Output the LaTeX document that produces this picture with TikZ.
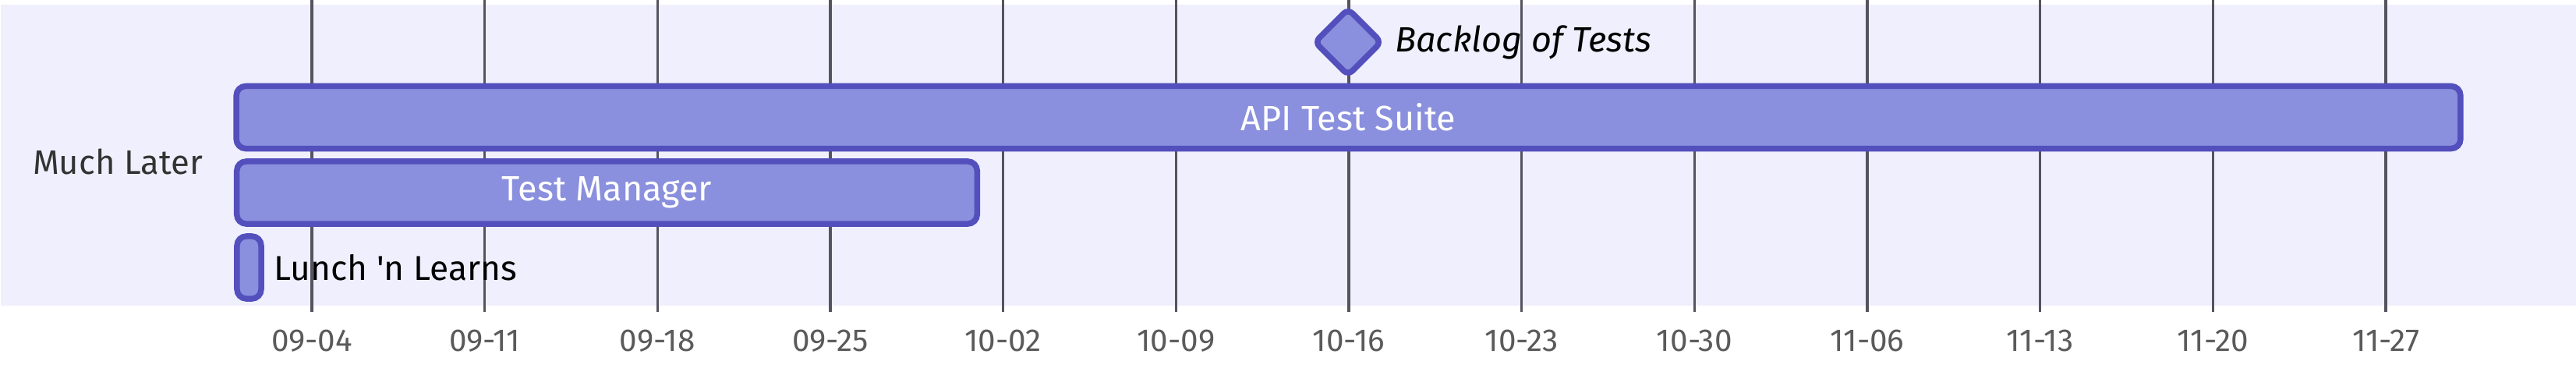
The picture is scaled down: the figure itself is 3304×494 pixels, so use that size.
\documentclass[tikz,border=0pt]{standalone}
\usepackage{fontspec}
\defaultfontfeatures[\rmfamily]{}
\setmainfont{Fira Sans}
\usepackage{xcolor}
\usetikzlibrary{shapes,shapes.geometric,positioning}
\definecolor{taskfill}{HTML}{8A90DD}
\definecolor{taskline}{HTML}{534FBC}
\definecolor{sectionbg}{HTML}{EFEFFD}
\definecolor{gridcol}{HTML}{54535E}
\definecolor{ticktext}{HTML}{5A5A5A}
\definecolor{sectext}{HTML}{333333}
\tikzstyle{task}=[rectangle, draw=taskline, fill=taskfill,% a bar of the chart
line width=0.075cm, rounded corners=0.12cm, inner sep=0pt, minimum height=0.8cm,
text=white, font=\fontsize{12.8}{15}\selectfont]
\tikzstyle{mstone}=[diamond, draw=taskline, fill=taskfill, line width=0.075cm,
rounded corners=0.08cm, inner sep=0pt, minimum width=0.88cm, minimum height=0.88cm]
\tikzstyle{outtext}=[text=black, font=\fontsize{12.6}{15}\selectfont]
\tikzstyle{tick}=[text=ticktext, font=\fontsize{11.5}{13}\selectfont]
\tikzstyle{grid}=[draw=gridcol, line width=0.032cm]

\begin{document}
\begin{tikzpicture}[x=0.01cm, y=-0.01cm]
\useasboundingbox (0,0) rectangle (3304,494);
\fill[sectionbg] (1,6) rectangle (3304,392);
\node[text=sectext, font=\fontsize{12.4}{14}\selectfont] (sec) at (151,207) {Much Later};
\draw[grid] (400,0) -- (400,400);
\draw[grid] (621.7,0) -- (621.7,400);
\draw[grid] (843.3,0) -- (843.3,400);
\draw[grid] (1065,0) -- (1065,400);
\draw[grid] (1286.7,0) -- (1286.7,400);
\draw[grid] (1508.3,0) -- (1508.3,400);
\draw[grid] (1730,0) -- (1730,400);
\draw[grid] (1951.7,0) -- (1951.7,400);
\draw[grid] (2173.3,0) -- (2173.3,400);
\draw[grid] (2395,0) -- (2395,400);
\draw[grid] (2616.7,0) -- (2616.7,400);
\draw[grid] (2838.3,0) -- (2838.3,400);
\draw[grid] (3060,0) -- (3060,400);
\node[tick] (t0904) at (400,437) {09-04};
\node[tick] (t0911) at (621.7,437) {09-11};
\node[tick] (t0918) at (843.3,437) {09-18};
\node[tick] (t0925) at (1065,437) {09-25};
\node[tick] (t1002) at (1286.7,437) {10-02};
\node[tick] (t1009) at (1508.3,437) {10-09};
\node[tick] (t1016) at (1730,437) {10-16};
\node[tick] (t1023) at (1951.7,437) {10-23};
\node[tick] (t1030) at (2173.3,437) {10-30};
\node[tick] (t1106) at (2395,437) {11-06};
\node[tick] (t1113) at (2616.7,437) {11-13};
\node[tick] (t1120) at (2838.3,437) {11-20};
\node[tick] (t1127) at (3060,437) {11-27};
\node[mstone, label={[outtext, font=\fontsize{12.8}{15}\selectfont\itshape, label distance=0pt]right:Backlog of Tests}] (backlog) at (1729,54) {};
\node[task, minimum width=28.51cm] (api) at (1729.5,150.5) {API Test Suite};
\node[task, minimum width=9.49cm] (mgr) at (778.5,247) {Test Manager};
\node[task, minimum width=0.31cm, label={[outtext, label distance=0pt]right:Lunch 'n Learns}] (lunch) at (319.5,343) {};
\end{tikzpicture}
\end{document}
